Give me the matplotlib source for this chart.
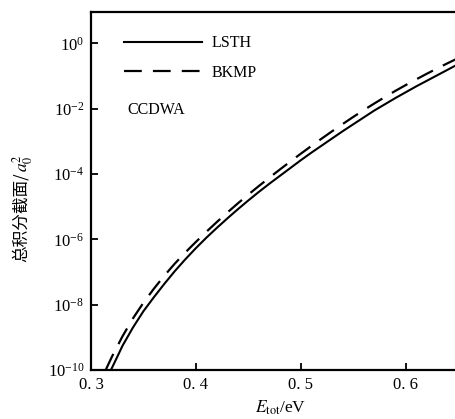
import numpy as np
import matplotlib.pyplot as plt

plt.rcParams['font.family'] = ['Liberation Serif', 'Noto Sans CJK SC']
plt.rcParams['mathtext.fontset'] = 'stix'

# 总积分截面 (log10 of cross section in a0^2) vs E_tot (eV)
e_lsth = [0.319, 0.325, 0.33, 0.34, 0.35, 0.36, 0.37, 0.38, 0.39, 0.40, 0.41,
          0.42, 0.43, 0.44, 0.45, 0.46, 0.47, 0.48, 0.49, 0.50, 0.51, 0.52,
          0.53, 0.54, 0.55, 0.56, 0.57, 0.58, 0.59, 0.60, 0.61, 0.62, 0.63,
          0.64, 0.65]
lg_lsth = [-10, -9.6, -9.26, -8.7, -8.2, -7.77, -7.36, -6.97, -6.61, -6.27,
           -5.95, -5.65, -5.36, -5.08, -4.81, -4.55, -4.30, -4.06, -3.82,
           -3.58, -3.35, -3.13, -2.91, -2.69, -2.48, -2.27, -2.06, -1.87,
           -1.68, -1.5, -1.32, -1.15, -0.98, -0.81, -0.64]

e_bkmp = [0.314, 0.32, 0.33, 0.34, 0.35, 0.36, 0.37, 0.38, 0.39, 0.40, 0.41,
          0.42, 0.43, 0.44, 0.45, 0.46, 0.47, 0.48, 0.49, 0.50, 0.51, 0.52,
          0.53, 0.54, 0.55, 0.56, 0.57, 0.58, 0.59, 0.60, 0.61, 0.62, 0.63,
          0.64, 0.65]
lg_bkmp = [-10, -9.59, -8.97, -8.42, -7.94, -7.51, -7.11, -6.74, -6.40, -6.08,
           -5.77, -5.47, -5.18, -4.90, -4.63, -4.37, -4.115, -3.865, -3.62,
           -3.38, -3.145, -2.915, -2.69, -2.47, -2.255, -2.045, -1.845, -1.65,
           -1.46, -1.28, -1.105, -0.935, -0.77, -0.61, -0.455]

xticks = [0.3, 0.4, 0.5, 0.6]
xtick_labels = ['0. 3', '0. 4', '0. 5', '0. 6']
yticks = [1e-10, 1e-8, 1e-6, 1e-4, 1e-2, 1e0]

fig = plt.figure(figsize=(4.56, 4.19), dpi=100)
ax = fig.add_axes([0.1996, 0.117, 0.798, 0.854])

ax.semilogy(e_lsth, 10.0 ** np.array(lg_lsth), color='black', lw=1.5, label='LSTH')
ax.semilogy(e_bkmp, 10.0 ** np.array(lg_bkmp), color='black', lw=1.6,
            dashes=(8, 5), label='BKMP')

ax.set_xlim(0.3, 0.647)
ax.set_ylim(1e-10, 9)
ax.set_xticks(xticks)
ax.set_xticklabels(xtick_labels)
ax.set_yticks(yticks)
ax.minorticks_off()
ax.tick_params(direction='in', length=5, width=1.3, labelsize=12, pad=5,
               top=False, right=False)

for s in ['left', 'bottom', 'top']:
    ax.spines[s].set_linewidth(1.6)
ax.spines['right'].set_linewidth(0.8)
ax.spines['right'].set_color('#bbbbbb')

ax.text(0.1, 0.726, 'CCDWA', transform=ax.transAxes, fontsize=11.5,
        va='center', ha='left')

ax.legend(loc='upper left', bbox_to_anchor=(0.05, 0.975), frameon=False,
          fontsize=11.5, handlelength=4.9, handletextpad=0.6, labelspacing=0.85)

ax.set_xlabel('$E_{\\rm tot}$/eV', fontsize=12.5, labelpad=3)
ax.xaxis.set_label_coords(0.52, -0.08)

# y label: Chinese part and math part as two texts (mathtext has no CJK glyphs)
W, H = 456.0, 419.0
t1 = fig.text(21 / W, 1 - 262 / H, '总积分截面/', rotation=90, ha='center',
              va='bottom', fontsize=12, family=['Noto Sans CJK SC'])
fig.canvas.draw()
bb = t1.get_window_extent()
fig.text(23 / W, bb.y1 / fig.bbox.height + 0.002, '$a_0^2$', rotation=90,
         ha='center', va='bottom', fontsize=12.5)

fig.savefig('out.png', dpi=100)
